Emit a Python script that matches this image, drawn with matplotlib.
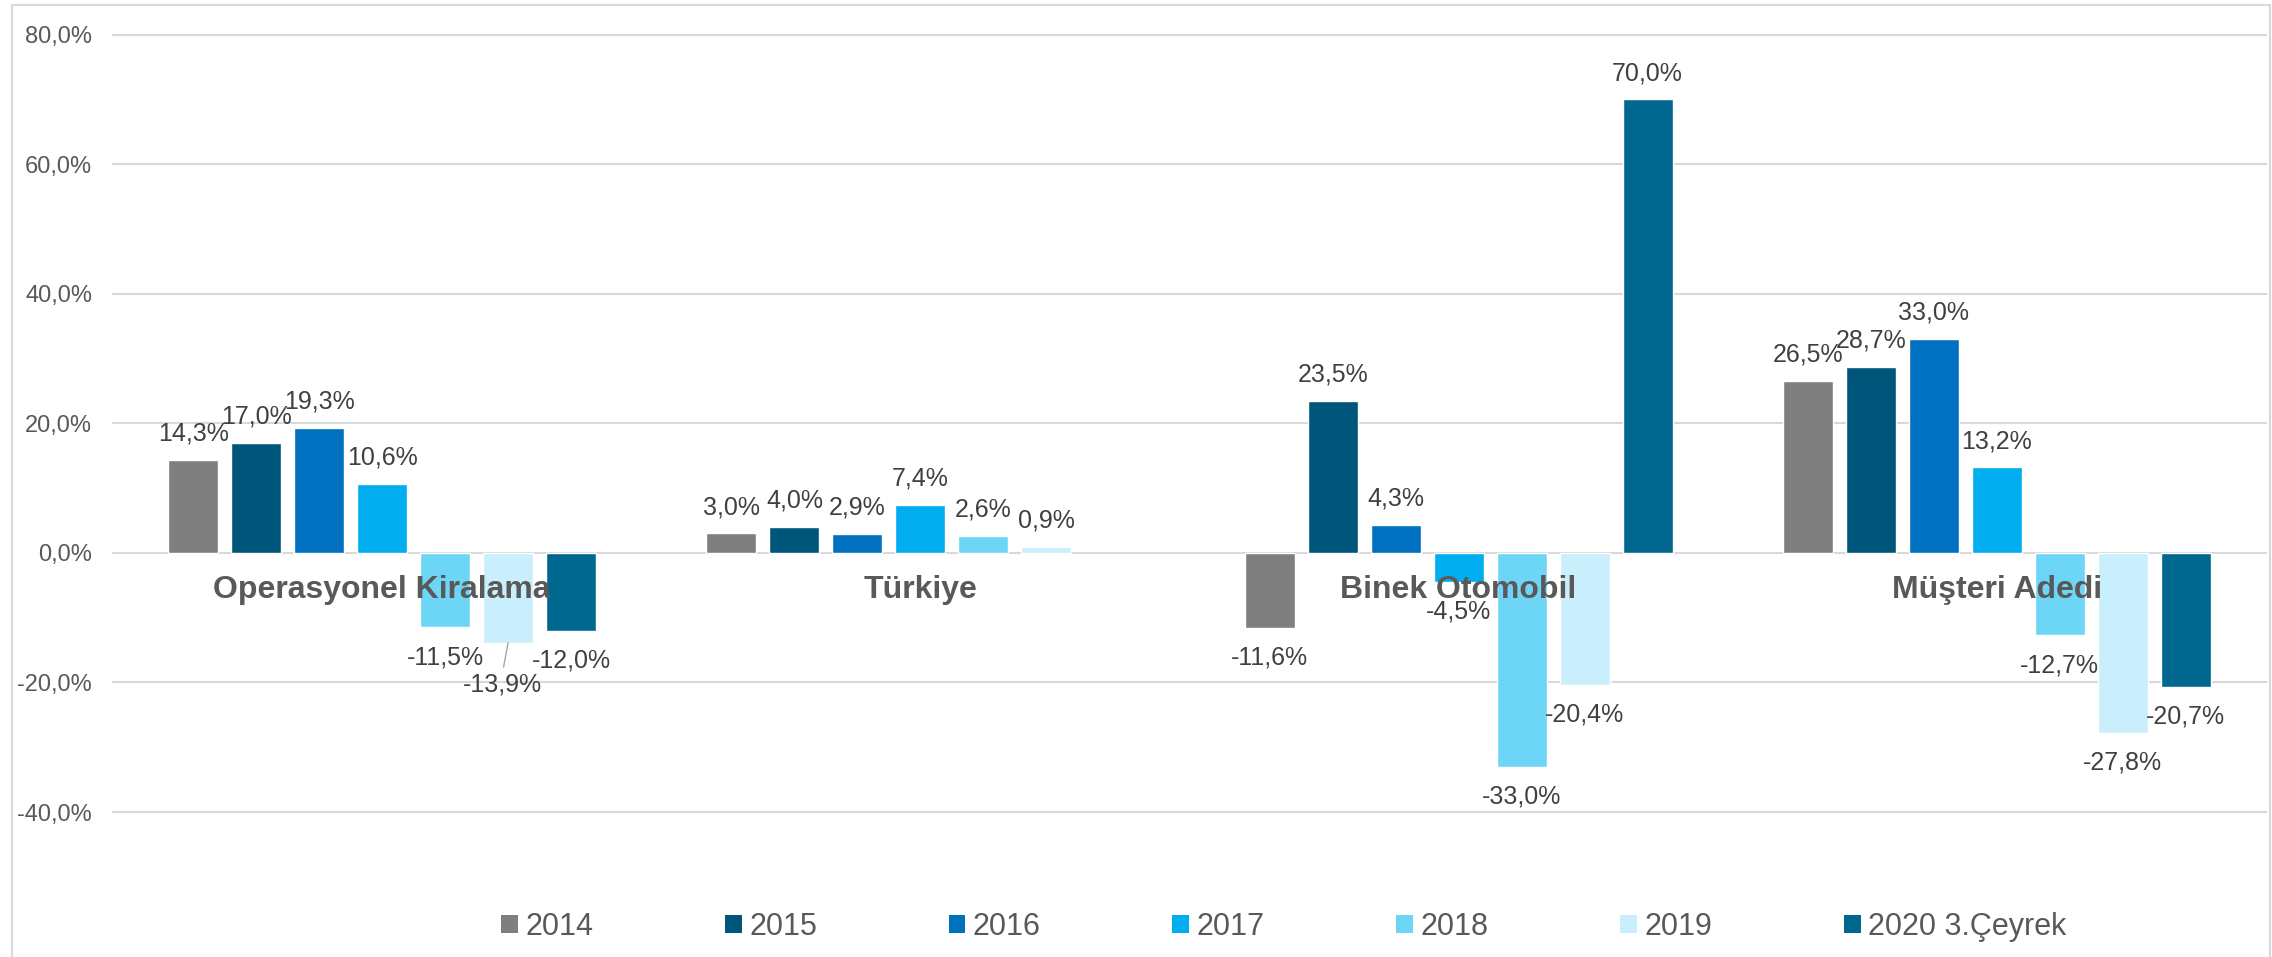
import numpy as np
import matplotlib
matplotlib.use("Agg")
import matplotlib.pyplot as plt
from matplotlib.patches import Patch, Rectangle

plt.rcParams['font.family'] = ['Liberation Sans', 'DejaVu Sans']

categories = ["Operasyonel Kiralama", "Türkiye", "Binek Otomobil", "Müşteri Adedi"]
series_names = ["2014", "2015", "2016", "2017", "2018", "2019", "2020 3.Çeyrek"]

s2014 = [14.3, 3.0, -11.6, 26.5]
s2015 = [17.0, 4.0, 23.5, 28.7]
s2016 = [19.3, 2.9, 4.3, 33.0]
s2017 = [10.6, 7.4, -4.5, 13.2]
s2018 = [-11.5, 2.6, -33.0, -12.7]
s2019 = [-13.9, 0.9, -20.4, -27.8]
s2020 = [-12.0, np.nan, 70.0, -20.7]
series = [s2014, s2015, s2016, s2017, s2018, s2019, s2020]

colors = ["#7F7F7F", "#00567A", "#0070C0", "#00AEEF", "#6DD5F6", "#C9EEFC", "#00688F"]

yticks = [-40, -20, 0, 20, 40, 60, 80]

W, H = 2272, 957
fig = plt.figure(figsize=(W / 100, H / 100), dpi=100)
ax = fig.add_axes([113 / W, 1 - 812 / H, (2266 - 113) / W, (812 - 34.7) / H])

# outer chart border
fig.patches.append(Rectangle((12 / W, -0.01), (2270 - 12) / W, 1 - 5 / H + 0.01,
                             transform=fig.transFigure, fill=False,
                             edgecolor="#D9D9D9", linewidth=1.5))

x = np.arange(len(categories))
step = 0.117
width = 0.093

def fmt(v):
    return f"{v:.1f}%".replace(".", ",")

for j, (vals, col) in enumerate(zip(series, colors)):
    pos = x + (j - 3) * step
    ax.bar(pos, vals, width=width, color=col, edgecolor="white", linewidth=1,
           zorder=3, label=series_names[j])
    for p, v in zip(pos, vals):
        if np.isnan(v):
            continue
        if j == 5 and p < 0.5:
            # label moved down with a leader line
            ax.annotate(fmt(v), xy=(p, v), xytext=(-4, -30), textcoords="offset points",
                        ha="center", va="center", fontsize=18, color="#404040",
                        arrowprops=dict(arrowstyle="-", color="#A6A6A6", lw=1,
                                        shrinkA=2, shrinkB=0, relpos=(0.5, 1)),
                        zorder=5)
            continue
        off = 19 if v >= 0 else -21.5
        ax.annotate(fmt(v), xy=(p, v), xytext=(0, off), textcoords="offset points",
                    ha="center", va="center", fontsize=18, color="#404040", zorder=5)

for i, name in enumerate(categories):
    ax.annotate(name, xy=(i, 0), xytext=(0, -27), textcoords="offset points",
                ha="center", va="center", fontsize=23, fontweight="bold",
                color="#595959", zorder=6)

ax.set_xlim(-0.5, 3.5)
ax.set_ylim(-40, 80)
ax.set_yticks(yticks)
ax.set_yticklabels([fmt(t) for t in yticks])
ax.set_xticks([])
ax.tick_params(axis="y", length=0, pad=15, labelsize=17, labelcolor="#595959")
for sp in ax.spines.values():
    sp.set_visible(False)
for t in yticks:
    ax.axhline(t, color="#D9D9D9", linewidth=1.5, zorder=1, clip_on=False)

handles = [Patch(facecolor=c, edgecolor="none") for c in colors]
fig.legend(handles, series_names, loc="center left",
           bbox_to_anchor=(501 / W, 1 - 927 / H), ncol=7, frameon=False,
           fontsize=22, labelcolor="#595959", handlelength=0.55, handleheight=0.55,
           handletextpad=0.25, columnspacing=4.3, borderpad=0, borderaxespad=0)

fig.savefig("out.png", dpi=100, facecolor="white")
